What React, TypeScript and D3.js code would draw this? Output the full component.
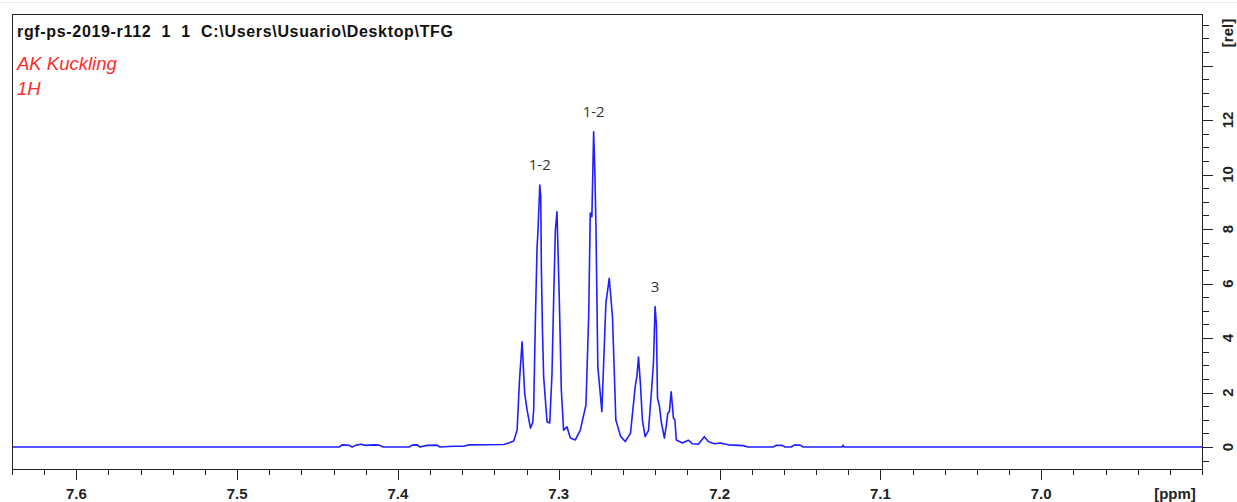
import React from "react";
import * as d3 from "d3";

// 1H NMR spectrum, aromatic region (chemical shift in ppm, relative intensity)
const shiftPpm = [
  7.64, 7.4365, 7.4347, 7.4303, 7.4285, 7.426, 7.4229, 7.4204, 7.4148, 7.4117, 7.4092,
  7.3931, 7.3912, 7.3881, 7.3863, 7.3819, 7.3757, 7.3739, 7.3652, 7.359, 7.3559,
  7.3342, 7.3311, 7.328, 7.3259, 7.3244, 7.3228, 7.3212, 7.3197, 7.3176, 7.3162, 7.3156,
  7.3145, 7.3135, 7.3129, 7.3118, 7.3112, 7.3108, 7.3101, 7.3094, 7.3073, 7.3056, 7.3042, 7.3031, 7.3021, 7.3011,
  7.2996, 7.2984, 7.297, 7.2949, 7.2928, 7.2897, 7.2866, 7.2831, 7.2814, 7.2804,
  7.2794, 7.2783, 7.2776, 7.2769, 7.2757, 7.2732, 7.2707, 7.2686, 7.2666, 7.2645, 7.2616,
  7.2587, 7.2554, 7.2525, 7.2514, 7.2504, 7.2492, 7.248, 7.2463, 7.2442, 7.2424,
  7.2411, 7.2401, 7.2393, 7.2386, 7.2374, 7.2362, 7.2343, 7.2331, 7.2322, 7.2312,
  7.2301, 7.2293, 7.2287, 7.2278, 7.2269, 7.2231, 7.2194, 7.2169, 7.2132, 7.2095,
  7.207, 7.2033, 7.1995, 7.1946, 7.1853, 7.1822, 7.1667, 7.1648, 7.1611, 7.1592,
  7.1555, 7.1536, 7.1499, 7.148, 7.1239, 7.1232, 7.1226, 6.9,
];
const intensity = [
  0, 0, 0.08, 0.06, 0, 0.07, 0.1, 0.06, 0.08, 0.07, 0,
  0, 0.07, 0.08, 0, 0.06, 0.07, 0, 0.03, 0.03, 0.08,
  0.09, 0.15, 0.22, 0.62, 2.46, 3.86, 1.98, 1.36, 0.69, 0.9, 1.36,
  4.78, 7.3, 7.96, 9.61, 9.2, 6.5, 4.2, 2.58, 0.93, 0.88, 2.7, 5.6, 7.96, 8.63,
  5.28, 2.09, 0.62, 0.74, 0.33, 0.26, 0.62, 1.54, 4.78, 8.59,
  8.45, 11.57, 10.2, 8.2, 2.95, 1.3, 5.27, 6.19, 4.78, 0.99, 0.4,
  0.2, 0.5, 2.2, 2.6, 3.3, 2.3, 1.0, 0.38, 0.6, 2.0,
  3.1, 5.15, 4.5, 1.8, 1.5, 0.9, 0.33, 0.8, 1.24, 1.3,
  2.03, 1.5, 1.06, 1.0, 0.26, 0.15, 0.25, 0.12, 0.1, 0.38,
  0.2, 0.12, 0.15, 0.08, 0.05, 0, 0, 0.06, 0.06, 0,
  0, 0.07, 0.07, 0, 0, 0.07, 0, 0,
];

// Multiplet annotations
const peakLabels = ["1-2", "1-2", "3"];
const peakLabelPpm = [7.3118, 7.2783, 7.2401];
const peakLabelValue = [9.61, 11.57, 5.15];

const xMajorTicks = [7.6, 7.5, 7.4, 7.3, 7.2, 7.1, 7.0];
const yLabelTicks = [0, 2, 4, 6, 8, 10, 12];

const titleText = "rgf-ps-2019-r112  1  1  C:\\Users\\Usuario\\Desktop\\TFG";
const subtitleLines = ["AK Kuckling", "1H"];

const W = 1237;
const H = 502;
const frame = { left: 12, right: 1202, top: 14, bottom: 469 };

export default function App() {
  const x = d3.scaleLinear().domain([7.64, 6.9]).range([frame.left, frame.right]);
  const y = d3.scaleLinear().domain([-0.807, 15.89]).range([frame.bottom, frame.top]);

  const points: [number, number][] = shiftPpm.map((p, i) => [p, intensity[i]]);
  const line = d3
    .line<[number, number]>()
    .x((d) => x(d[0]))
    .y((d) => y(d[1]))
    .curve(d3.curveLinear);

  // minor ticks every 0.02 ppm across the frame
  const xMinor = d3.range(0, 38).map((i) => +(7.64 - i * 0.02).toFixed(2));
  const isMajorX = (v: number) => xMajorTicks.some((m) => Math.abs(m - v) < 1e-6);

  // intensity ticks every 0.5, major on even values
  const yMinor = d3.range(-1, 32).map((i) => i * 0.5);
  const isMajorY = (v: number) => Math.abs(v % 2) < 1e-6;

  const axisFont = "Arial, 'Liberation Sans', sans-serif";

  return (
    <svg
      width={W}
      height={H}
      style={{ position: "absolute", left: 0, top: 0, background: "#fff" }}
    >
      <line x1={0} x2={W} y1={2.5} y2={2.5} stroke="#ececec" strokeWidth={1} />

      {/* spectrum */}
      <path
        d={line(points) || ""}
        fill="none"
        stroke="#1f1fff"
        strokeWidth={1.6}
        strokeLinejoin="round"
      />

      {/* frame */}
      <rect
        x={frame.left + 0.5}
        y={frame.top + 0.5}
        width={frame.right - frame.left}
        height={frame.bottom - frame.top}
        fill="none"
        stroke="#222"
        strokeWidth={1}
      />

      {/* x axis ticks */}
      {xMinor.map((v) => (
        <line
          key={"xt" + v}
          x1={Math.round(x(v)) + 0.5}
          x2={Math.round(x(v)) + 0.5}
          y1={frame.bottom}
          y2={frame.bottom + (isMajorX(v) ? 11 : 6)}
          stroke="#222"
        />
      ))}
      {xMajorTicks.map((v) => (
        <text
          key={"xl" + v}
          x={x(v)}
          y={499}
          textAnchor="middle"
          fontFamily={axisFont}
          fontWeight="bold"
          fontSize={15}
          fill="#222"
        >
          {v.toFixed(1)}
        </text>
      ))}
      <text
        x={1175}
        y={499}
        textAnchor="middle"
        fontFamily={axisFont}
        fontWeight="bold"
        fontSize={15}
        fill="#222"
      >
        [ppm]
      </text>

      {/* y axis ticks on the right */}
      {yMinor.map((v) => (
        <line
          key={"yt" + v}
          x1={frame.right}
          x2={frame.right + (isMajorY(v) ? 11 : 7)}
          y1={Math.round(y(v)) + 0.5}
          y2={Math.round(y(v)) + 0.5}
          stroke="#222"
        />
      ))}
      {yLabelTicks.map((v) => (
        <text
          key={"yl" + v}
          transform={`translate(1233, ${y(v)}) rotate(-90)`}
          textAnchor="middle"
          fontFamily={axisFont}
          fontWeight="bold"
          fontSize={15}
          fill="#222"
        >
          {v}
        </text>
      ))}
      <text
        transform={`translate(1233, 33) rotate(-90)`}
        textAnchor="middle"
        fontFamily={axisFont}
        fontWeight="bold"
        fontSize={15}
        fill="#222"
      >
        [rel]
      </text>

      {/* header */}
      <text
        x={17}
        y={37}
        fontFamily={axisFont}
        fontWeight="bold"
        fontSize={16}
        fill="#111"
        textLength={436}
        lengthAdjust="spacing"
        style={{ whiteSpace: "pre" }}
      >
        {titleText}
      </text>
      {subtitleLines.map((t, i) => (
        <text
          key={t}
          x={17}
          y={70 + i * 25}
          fontFamily={axisFont}
          fontStyle="italic"
          fontSize={18.5}
          fill="#ff2a2a"
        >
          {t}
        </text>
      ))}

      {/* multiplet labels */}
      {peakLabels.map((t, i) => (
        <text
          key={"pl" + i}
          x={x(peakLabelPpm[i])}
          y={y(peakLabelValue[i]) - 15}
          textAnchor="middle"
          fontFamily="'Open Sans', 'Noto Sans', sans-serif"
          fontSize={15}
          fill="#333"
        >
          {t}
        </text>
      ))}
    </svg>
  );
}
